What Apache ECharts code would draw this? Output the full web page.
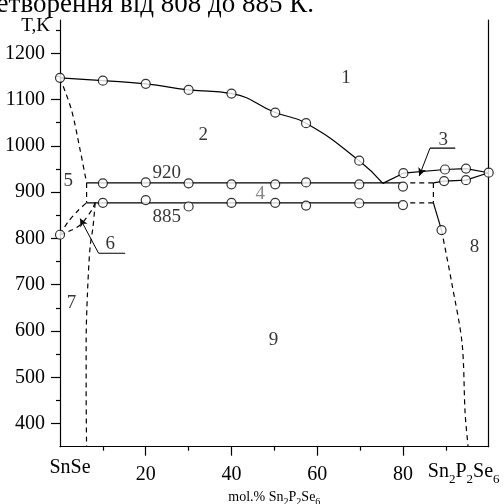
<!DOCTYPE html>
<html>
<head>
<meta charset="utf-8">
<script src="https://cdn.jsdelivr.net/npm/echarts@6/dist/echarts.min.js"></script>
<style>
  html, body { margin: 0; padding: 0; background: #fff; }
  #chart { width: 504px; height: 504px; }
</style>
</head>
<body>
<div id="chart"></div>
<script>
// --- data: [mol.% Sn2P2Se6, T in K] ---
const liquidusLeft = [[0, 1147], [10, 1141], [20, 1134], [30, 1121], [40, 1113], [50.2, 1072], [57.4, 1049], [69.8, 968], [75.3, 919]]
const liquidusRight = [[75.3, 919], [80.1, 941], [89.8, 949], [94.7, 951], [100, 942]]
const solidusRight = [[87.1, 920], [89.6, 924], [94.7, 926], [100, 942]]
const line920 = [[6.2, 920], [79.5, 920]]
const line885 = [[6.2, 877], [79.5, 877]]
const dash920 = [[81.7, 920], [87.1, 920]]
const dash885 = [[81.7, 877], [87.1, 877]]
const dashRightVert = [[87.1, 920], [87.1, 877]]
const solidRightDrop = [[87.1, 877], [89.0, 818]]
const dashRightSolvus = [[89.0, 818], [91.4, 703], [93.8, 573], [94.5, 422], [95.2, 350]]
const dashLeftSolidus = [[0, 1147], [2.7, 1077], [4.7, 991], [6.2, 920]]
const dashLeftVert = [[6.2, 920], [6.2, 877]]
const dash6Upper = [[0, 808], [1.9, 836], [4.3, 861], [6.2, 877]]
const dash6Lower = [[0, 808], [2.0, 815], [4.7, 829], [7.4, 861], [8.2, 877]]
const dash7 = [[8.2, 877], [7.7, 825], [7.0, 780], [6.4, 680], [6.1, 580], [6.1, 470], [6.2, 350]]

// experimental points (open circles)
const pointsLiquidus = [[0, 1147], [10, 1141], [20, 1134], [30, 1121], [40, 1113], [50.2, 1072], [57.4, 1049], [69.8, 968], [80.1, 941], [89.8, 949], [94.7, 951], [100, 942]]
const points920 = [[10, 919], [20, 921], [30, 919], [40, 917], [50.2, 917], [57.4, 921], [69.8, 917], [80, 912], [89.6, 924], [94.7, 926]]
const points885 = [[10, 877], [20, 883], [30, 869], [40, 877], [50.2, 877], [57.4, 871], [69.8, 876], [80, 872], [89, 818]]
const points808 = [[0, 808]]

// leader lines for labels 3 and 6
const leader3 = [[86.3, 995], [92.2, 995]]
const arrow3 = [[86.3, 995], [83.8, 935]]
const leader6 = [[9.0, 768], [15.2, 768]]
const arrow6 = [[9.0, 768], [4.7, 843]]

// region / isotherm labels
const fieldLabels = [
  { name: '1', value: [66.7, 1147] },
  { name: '2', value: [33.4, 1023] },
  { name: '3', value: [89.4, 1013] },
  { name: '5', value: [1.9, 925] },
  { name: '6', value: [11.7, 789] },
  { name: '7', value: [2.7, 660] },
  { name: '8', value: [96.7, 782] },
  { name: '9', value: [49.8, 580] },
  { name: '920', value: [24.9, 941] },
  { name: '885', value: [24.9, 847] }
]
const grayLabels = [{ name: '4', value: [46.7, 897] }]

// ticks
const xMajorTicks = [20, 40, 60, 80]
const xLabelValues = [0, 20, 40, 60, 80, 100]
const xMinorTicks = [10, 30, 50, 70, 90]
const yMajorTicks = [400, 500, 600, 700, 800, 900, 1000, 1100, 1200]
const yMinorTicks = [450, 550, 650, 750, 850, 950, 1050, 1150, 1250]

const SERIF = '"Liberation Serif", "DejaVu Serif", serif'
const INK = '#000'

const chart = echarts.init(document.getElementById('chart'))

const solid = (data, smooth) => ({
  type: 'line', data, symbol: 'none', smooth: smooth || false, silent: true,
  lineStyle: { color: INK, width: 1.2 }, z: 3
})
const dashed = (data, smooth) => ({
  type: 'line', data, symbol: 'none', smooth: smooth || false, silent: true,
  lineStyle: { color: INK, width: 1.2, type: [5, 4] }, z: 3
})
const circles = data => ({
  type: 'scatter', data, symbol: 'circle', symbolSize: 9, silent: true,
  itemStyle: { color: '#fff', borderColor: INK, borderWidth: 1.2 }, z: 5
})
const arrowLine = pts => ({
  type: 'line', data: [], silent: true,
  markLine: {
    silent: true, symbol: ['none', 'arrow'], symbolSize: [6, 8],
    label: { show: false },
    lineStyle: { color: INK, width: 1, type: 'solid' },
    data: [[{ coord: pts[0] }, { coord: pts[1] }]]
  }
})

const xLabelFmt = v => {
  if (v === 0) return '{n0|SnSe}'
  if (v === 100) return '{n|Sn}{s|2}{n|P}{s|2}{n|Se}{se|6}'
  return '{d|' + v + '}'
}

const option = {
  animation: false,
  backgroundColor: '#fff',
  grid: { left: 60, right: 15.3, top: 20, bottom: 57.3, containLabel: false, outerBoundsMode: 'none' },
  graphic: [{
    type: 'text', x: 314, y: 5,
    style: {
      text: 'перетворення від 808 до 885 К.',
      font: '27px ' + SERIF, fill: INK, align: 'right', verticalAlign: 'middle'
    }
  }],
  xAxis: [{
    type: 'value', min: 0, max: 100, position: 'bottom',
    axisLine: { show: true, onZero: false, lineStyle: { color: INK, width: 1.2 } },
    axisTick: { show: true, length: 9, customValues: xMajorTicks, lineStyle: { color: INK, width: 1.2 } },
    axisLabel: {
      customValues: xLabelValues, showMinLabel: true, showMaxLabel: true, hideOverlap: false,
      margin: 11, color: INK, fontFamily: SERIF, formatter: xLabelFmt,
      rich: {
        d: { fontSize: 20, fontFamily: SERIF, color: INK, padding: [7, 0, 0, 0] },
        n0: { fontSize: 20, fontFamily: SERIF, color: INK, padding: [0, 0, 0, 20] },
        n: { fontSize: 20, fontFamily: SERIF, color: INK, lineHeight: 20, verticalAlign: 'top', padding: [4, 0, 0, 0] },
        s: { fontSize: 13, fontFamily: SERIF, color: INK, lineHeight: 13, verticalAlign: 'top', padding: [15, 0, 0, 0] },
        se: { fontSize: 13, fontFamily: SERIF, color: INK, lineHeight: 13, verticalAlign: 'top', padding: [15, 50, 0, 0] }
      }
    },
    splitLine: { show: false },
    name: '{m|mol.% Sn}{ms|2}{m|P}{ms|2}{m|Se}{ms|6}',
    nameLocation: 'middle', nameGap: 42,
    nameTextStyle: {
      rich: {
        m: { fontSize: 14, fontFamily: SERIF, color: INK, lineHeight: 14, verticalAlign: 'top' },
        ms: { fontSize: 10, fontFamily: SERIF, color: INK, lineHeight: 10, verticalAlign: 'top', padding: [7, 0, 0, 0] }
      }
    }
  }, {
    type: 'value', min: 0, max: 100, position: 'bottom',
    axisLine: { show: false },
    axisTick: { show: true, length: 4, customValues: xMinorTicks, lineStyle: { color: INK, width: 1.2 } },
    axisLabel: { show: false },
    splitLine: { show: false }
  }],
  yAxis: [{
    type: 'value', min: 350, max: 1272, position: 'left',
    axisLine: { show: true, onZero: false, lineStyle: { color: INK, width: 1.2 } },
    axisTick: { show: true, length: 9, customValues: yMajorTicks, lineStyle: { color: INK, width: 1.2 } },
    axisLabel: { customValues: yMajorTicks, margin: 15, color: INK, fontSize: 20, fontFamily: SERIF, formatter: v => String(v) },
    splitLine: { show: false },
    name: 'T,K', nameLocation: 'end', nameGap: -6,
    nameTextStyle: { color: INK, fontSize: 19, fontFamily: SERIF, align: 'right', verticalAlign: 'middle', padding: [0, 10, 0, 0] }
  }, {
    type: 'value', min: 350, max: 1272, position: 'left',
    axisLine: { show: false },
    axisTick: { show: true, length: 4, customValues: yMinorTicks, lineStyle: { color: INK, width: 1.2 } },
    axisLabel: { show: false },
    splitLine: { show: false }
  }, {
    type: 'value', min: 350, max: 1272, position: 'right',
    axisLine: { show: true, onZero: false, lineStyle: { color: INK, width: 1.2 } },
    axisTick: { show: false }, axisLabel: { show: false }, splitLine: { show: false }
  }],
  series: [
    solid(liquidusLeft, 0.5),
    solid(liquidusRight),
    solid(solidusRight),
    solid(line920),
    solid(line885),
    solid(solidRightDrop),
    dashed(dash920),
    dashed(dash885),
    dashed(dashRightVert),
    dashed(dashRightSolvus, 0.3),
    dashed(dashLeftSolidus, 0.3),
    dashed(dashLeftVert),
    dashed(dash6Upper, 0.3),
    dashed(dash6Lower, 0.3),
    dashed(dash7, 0.3),
    solid(leader3),
    solid(leader6),
    arrowLine(arrow3),
    arrowLine(arrow6),
    circles(pointsLiquidus),
    circles(points920),
    circles(points885),
    circles(points808),
    {
      type: 'scatter', data: fieldLabels, symbolSize: 0, silent: true, z: 6,
      label: { show: true, position: 'inside', formatter: '{b}', color: INK, fontSize: 19, fontFamily: SERIF }
    },
    {
      type: 'scatter', data: grayLabels, symbolSize: 0, silent: true, z: 6,
      label: { show: true, position: 'inside', formatter: '{b}', color: '#666', fontSize: 19, fontFamily: SERIF }
    }
  ]
}

chart.setOption(option)
</script>
</body>
</html>
